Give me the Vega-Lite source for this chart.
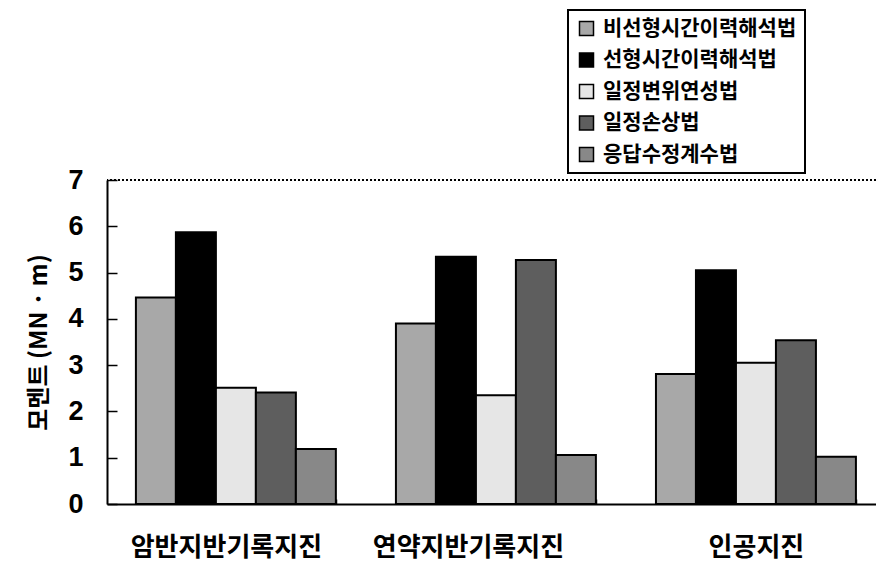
{
  "$schema": "https://vega.github.io/schema/vega-lite/v6.json",
  "width": 769,
  "height": 324,
  "autosize": {"type": "none"},
  "padding": {"left": 107, "top": 180, "right": 0, "bottom": 63},
  "background": "white",
  "config": {
    "view": {"stroke": null},
    "font": "Noto Sans CJK KR"
  },
  "data": {
    "values": [
      {"group": "암반지반기록지진", "method": "비선형시간이력해석법", "value": 4.46},
      {"group": "암반지반기록지진", "method": "선형시간이력해석법", "value": 5.87},
      {"group": "암반지반기록지진", "method": "일정변위연성법", "value": 2.51},
      {"group": "암반지반기록지진", "method": "일정손상법", "value": 2.41},
      {"group": "암반지반기록지진", "method": "응답수정계수법", "value": 1.19},
      {"group": "연약지반기록지진", "method": "비선형시간이력해석법", "value": 3.9},
      {"group": "연약지반기록지진", "method": "선형시간이력해석법", "value": 5.34},
      {"group": "연약지반기록지진", "method": "일정변위연성법", "value": 2.35},
      {"group": "연약지반기록지진", "method": "일정손상법", "value": 5.27},
      {"group": "연약지반기록지진", "method": "응답수정계수법", "value": 1.06},
      {"group": "인공지진", "method": "비선형시간이력해석법", "value": 2.81},
      {"group": "인공지진", "method": "선형시간이력해석법", "value": 5.05},
      {"group": "인공지진", "method": "일정변위연성법", "value": 3.05},
      {"group": "인공지진", "method": "일정손상법", "value": 3.54},
      {"group": "인공지진", "method": "응답수정계수법", "value": 1.02}
    ]
  },
  "layer": [
    {
      "mark": {"type": "bar", "stroke": "black", "strokeWidth": 2},
      "encoding": {
        "x": {
          "field": "group",
          "type": "nominal",
          "sort": ["암반지반기록지진", "연약지반기록지진", "인공지진"],
          "scale": {"paddingInner": 0.231, "paddingOuter": 0.0942, "align": 0.59},
          "axis": {
            "title": null,
            "labelAngle": 0,
            "labelFontSize": 26,
            "labelFontWeight": "bold",
            "labelColor": "black",
            "labelPadding": 35,
            "labelLimit": 0,
            "labelOverlap": false,
            "labelOffset": {
              "condition": [
                {"test": "datum.value === '연약지반기록지진'", "value": -28},
                {"test": "datum.value === '암반지반기록지진'", "value": -10}
              ],
              "value": 0
            },
            "domainColor": "black",
            "domainWidth": 2,
            "tickBand": "extent",
            "tickSize": -5,
            "tickColor": "black",
            "tickWidth": 1.5
          }
        },
        "xOffset": {
          "field": "method",
          "type": "nominal",
          "sort": ["비선형시간이력해석법", "선형시간이력해석법", "일정변위연성법", "일정손상법", "응답수정계수법"],
          "scale": {"paddingInner": 0, "paddingOuter": 0}
        },
        "y": {
          "field": "value",
          "type": "quantitative",
          "scale": {"domain": [0, 7], "nice": false},
          "axis": {
            "title": "모멘트 (MN · m)",
            "titleFontSize": 24,
            "titleFontWeight": "bold",
            "titleColor": "black",
            "titlePadding": 16,
            "values": [0, 1, 2, 3, 4, 5, 6, 7],
            "labelFontSize": 27,
            "labelFontWeight": "bold",
            "labelColor": "black",
            "labelPadding": 34,
            "labelFont": "Liberation Sans",
            "grid": false,
            "domainColor": "black",
            "domainWidth": 2,
            "tickSize": -10,
            "tickColor": "black",
            "tickWidth": 1.5
          }
        },
        "fill": {
          "field": "method",
          "type": "nominal",
          "sort": ["비선형시간이력해석법", "선형시간이력해석법", "일정변위연성법", "일정손상법", "응답수정계수법"],
          "scale": {"range": ["#a8a8a8", "#000000", "#e6e6e6", "#5e5e5e", "#888888"]},
          "legend": {
            "title": null,
            "orient": "none",
            "legendX": 461,
            "legendY": -170,
            "direction": "vertical",
            "fillColor": "white",
            "strokeColor": "black",
            "padding": 8,
            "symbolType": "square",
            "symbolSize": 196,
            "symbolStrokeColor": "black",
            "symbolStrokeWidth": 1.5,
            "symbolOpacity": 1,
            "labelFontSize": 21,
            "labelFontWeight": "bold",
            "labelColor": "black",
            "labelLimit": 400,
            "labelOffset": 6,
            "rowPadding": 9.5,
            "encode": {"legend": {"update": {"strokeWidth": {"value": 2}}}}
          }
        }
      }
    },
    {
      "mark": {"type": "rule", "stroke": "black", "strokeWidth": 1.5, "strokeDash": [2, 2]},
      "encoding": {"y": {"datum": 7}}
    }
  ]
}
